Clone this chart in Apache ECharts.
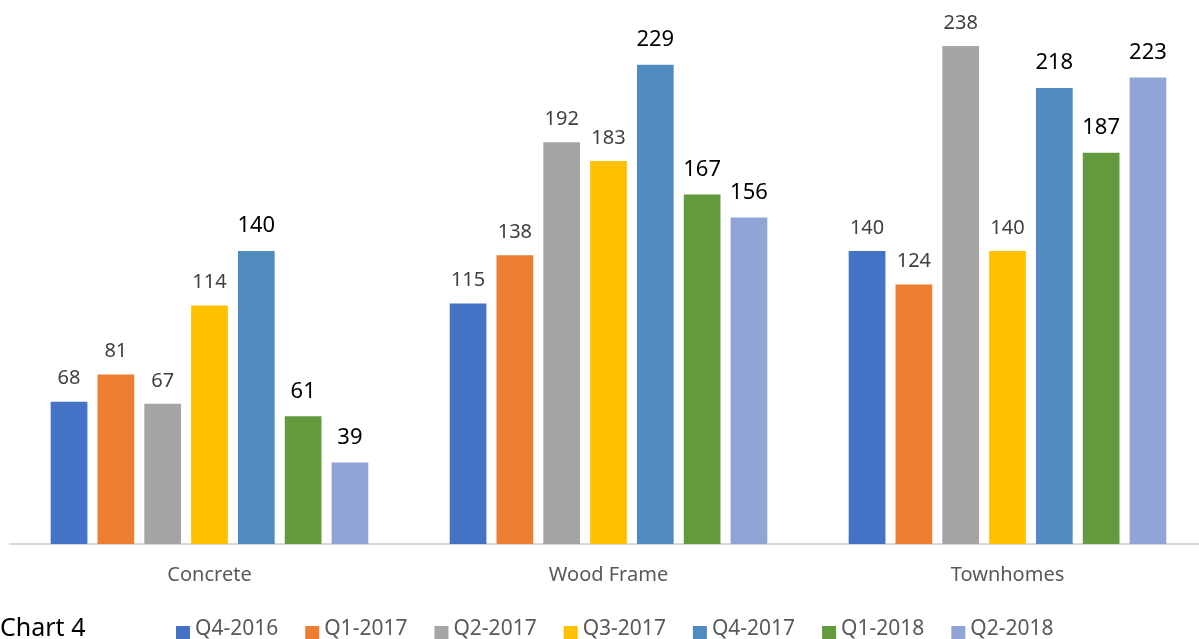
<!DOCTYPE html>
<html>
<head>
<meta charset="utf-8">
<script src="https://cdn.jsdelivr.net/npm/echarts@6/dist/echarts.min.js"></script>
<style>html,body{margin:0;padding:0;background:#fff;overflow:hidden;width:1199px;height:639px;}#c{width:1207px;height:639px;}</style>
</head>
<body>
<div id="c"></div>
<script>
const categories = ['Concrete', 'Wood Frame', 'Townhomes'];
const seriesNames = ['Q4-2016', 'Q1-2017', 'Q2-2017', 'Q3-2017', 'Q4-2017', 'Q1-2018', 'Q2-2018'];
const q4_2016 = [68, 115, 140];
const q1_2017 = [81, 138, 124];
const q2_2017 = [67, 192, 238];
const q3_2017 = [114, 183, 140];
const q4_2017 = [140, 229, 218];
const q1_2018 = [61, 167, 187];
const q2_2018 = [39, 156, 223];
const seriesValues = [q4_2016, q1_2017, q2_2017, q3_2017, q4_2017, q1_2018, q2_2018];
const colors = ['#4472C4', '#ED7D31', '#A5A5A5', '#FFC000', '#4F8BBE', '#629A3D', '#90A4D5'];
const labelDark = [false, false, false, false, true, true, true];

const FONT = '"Noto Sans", "Open Sans", sans-serif';
const chart = echarts.init(document.getElementById('c'));
chart.setOption({
  animation: false,
  color: colors,
  grid: { left: 10, right: 0, top: 0, bottom: 95, containLabel: false },
  xAxis: {
    type: 'category',
    data: categories,
    axisLine: { lineStyle: { color: '#D9D9D9', width: 2 } },
    axisTick: { show: false },
    axisLabel: { color: '#595959', fontSize: 20, fontFamily: FONT, margin: 21 }
  },
  yAxis: {
    type: 'value', min: 0, max: 260,
    show: false,
    splitLine: { show: false }
  },
  legend: {
    left: 171, top: 613,
    itemWidth: 14, itemHeight: 22, itemGap: 27,
    icon: 'path://M0,0L0.01,0L0,0.01Z M0,8L14,8L14,22L0,22Z',
    textStyle: { color: '#595959', fontSize: 21, fontFamily: FONT },
    data: seriesNames
  },
  graphic: [{
    type: 'text', left: 0, top: 616,
    style: { text: 'Chart 4', fill: '#000', font: '25px ' + FONT }
  }],
  series: seriesNames.map((n, i) => ({
    name: n,
    type: 'bar',
    data: seriesValues[i],
    barGap: '27.5%',
    barCategoryGap: '20.4%',
    itemStyle: { color: colors[i] },
    label: {
      show: true, position: 'top', distance: labelDark[i] ? 14 : 13,
      color: labelDark[i] ? '#000' : '#404040',
      fontSize: labelDark[i] ? 22 : 20,
      fontFamily: FONT
    }
  }))
});
</script>
</body>
</html>
